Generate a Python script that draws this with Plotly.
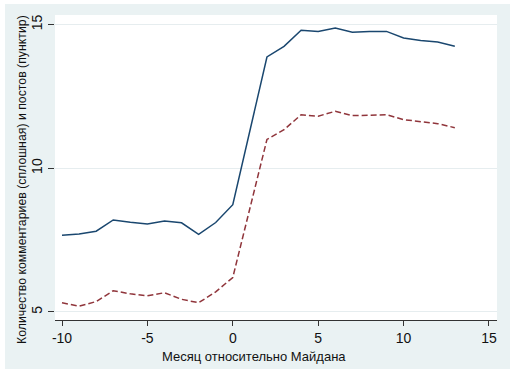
import plotly.graph_objects as go

months = list(range(-10, 14))
comments = [7.67, 7.71, 7.81, 8.20, 8.12, 8.06, 8.16, 8.10, 7.70, 8.11, 8.73,
            11.35, 13.87, 14.24, 14.80, 14.76, 14.88, 14.73, 14.76, 14.76,
            14.53, 14.44, 14.39, 14.24]
posts = [5.32, 5.20, 5.36, 5.74, 5.63, 5.56, 5.67, 5.44, 5.32, 5.70, 6.20,
         8.62, 11.00, 11.34, 11.86, 11.81, 11.98, 11.83, 11.85, 11.86,
         11.69, 11.61, 11.55, 11.41]
x_ticks = [-10, -5, 0, 5, 10, 15]
y_ticks = [5, 10, 15]
x_title = "Месяц относительно Майдана"
y_title = "Количество комментариев (сплошная) и постов (пунктир)"

fig = go.Figure()
fig.add_trace(go.Scatter(x=months, y=comments, mode="lines",
                         line=dict(color="#1a476f", width=1.5)))
fig.add_trace(go.Scatter(x=months, y=posts, mode="lines",
                         line=dict(color="#90353b", width=1.5, dash="6px,3px")))

OX, OY = 5, 4
W, H = 510 - OX, 369 - OY
l, r, t, b = 55 - OX, 510 - 497, 15 - OY, 369 - 320
pw, ph = W - l - r, H - t - b
bg = "#eaf2f3"


def px_x(p):  # page pixel -> paper x
    return (p - 55) / pw


def px_y(p):  # page pixel -> paper y
    return (320 - p) / ph


fig.update_layout(
    width=W, height=H,
    margin=dict(l=l, r=r, t=t, b=b),
    paper_bgcolor=bg,
    plot_bgcolor="white",
    showlegend=False,
    font=dict(family="Liberation Sans, Arial, sans-serif", color="#111111"),
    xaxis=dict(
        range=[-10.41, 15.47], tickvals=x_ticks, ticktext=[str(v) for v in x_ticks],
        showgrid=False, zeroline=False,
        showline=True, linecolor="#333333", linewidth=1,
        ticks="outside", ticklen=5, tickcolor="#333333", tickwidth=1,
        tickfont=dict(size=14),
        automargin=False,
    ),
    yaxis=dict(
        range=[4.72, 15.33], tickvals=y_ticks, ticktext=[str(v) for v in y_ticks],
        showgrid=True, gridcolor="#e6edef", gridwidth=1,
        zeroline=False, showline=False,
        ticks="outside", ticklen=6, tickcolor="#333333", tickwidth=1,
        tickangle=-90, tickfont=dict(size=14),
        automargin=False,
    ),
    annotations=[
        dict(text=x_title, xref="paper", yref="paper", x=px_x(254), y=px_y(356),
             xanchor="center", yanchor="middle", showarrow=False,
             font=dict(size=13)),
        dict(text=y_title, xref="paper", yref="paper", x=px_x(22), y=px_y(180),
             xanchor="center", yanchor="middle", showarrow=False, textangle=-90,
             font=dict(size=12.3)),
    ],
)

fig.write_html(
    "out.html",
    post_script=f"document.body.style.margin='{OY}px 0 0 {OX}px';"
                "document.body.style.background='white';",
)
